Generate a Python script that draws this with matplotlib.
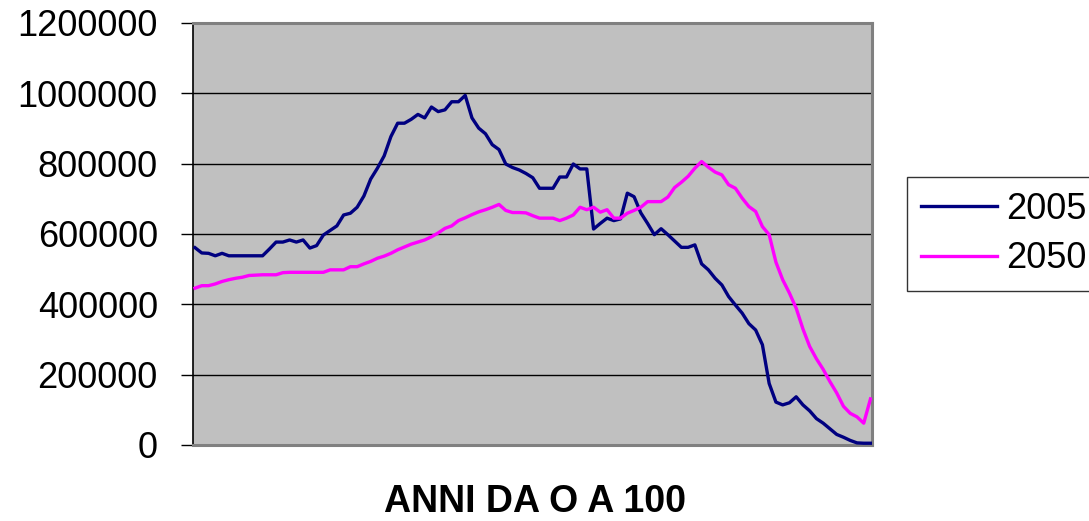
import numpy as np
import matplotlib
matplotlib.use("Agg")
import matplotlib.pyplot as plt
from matplotlib.ticker import FuncFormatter

plt.rcParams['font.family'] = ['Liberation Sans', 'DejaVu Sans']

# popolazione per singolo anno di eta', 0..100
ages = np.arange(0, 101)

pop_2005 = [
    561000, 546000, 545000, 538000, 545000, 538000, 538000, 538000, 538000, 538000,
    538000, 557000, 577000, 577000, 583000, 577000, 583000, 560000, 567000, 597000,
    610000, 623000, 654000, 659000, 676000, 708000, 756000, 787000, 822000, 877000,
    915000, 915000, 926000, 940000, 930000, 961000, 948000, 953000, 976000, 976000,
    994000, 930000, 901000, 885000, 854000, 840000, 799000, 789000, 782000, 772000,
    760000, 730000, 730000, 730000, 762000, 762000, 799000, 785000, 785000, 614000,
    630000, 645000, 638000, 643000, 716000, 706000, 660000, 630000, 598000, 615000,
    598000, 580000, 562000, 562000, 569000, 515000, 498000, 474000, 455000, 422000,
    398000, 375000, 345000, 327000, 285000, 175000, 122000, 114000, 120000, 137000,
    114000, 97000, 75000, 62000, 46000, 30000, 22000, 13000, 6000, 5000,
    5000,
]

pop_2050 = [
    446000, 453000, 453000, 458000, 465000, 470000, 474000, 477000, 482000, 483000,
    484000, 484000, 484000, 490000, 491000, 491000, 491000, 491000, 491000, 491000,
    498000, 498000, 498000, 507000, 507000, 515000, 522000, 531000, 537000, 545000,
    555000, 563000, 571000, 577000, 583000, 592000, 603000, 616000, 623000, 638000,
    646000, 655000, 663000, 669000, 676000, 684000, 667000, 661000, 661000, 660000,
    652000, 645000, 645000, 645000, 638000, 645000, 654000, 676000, 669000, 676000,
    662000, 669000, 645000, 645000, 659000, 667000, 676000, 692000, 692000, 692000,
    705000, 732000, 747000, 764000, 787000, 806000, 790000, 776000, 768000, 740000,
    730000, 702000, 678000, 664000, 621000, 598000, 520000, 470000, 432000, 389000,
    330000, 280000, 245000, 215000, 180000, 148000, 110000, 90000, 80000, 62000,
    131000,
]

yticks = [0, 200000, 400000, 600000, 800000, 1000000, 1200000]

fig = plt.figure(figsize=(10.89, 5.21), dpi=100)
ax = fig.add_axes([0.1768, 0.1459, 0.6239, 0.81])
ax.set_facecolor('#C0C0C0')

ax.plot(ages, pop_2005, color='#000080', lw=2.4, label='2005', zorder=3)
ax.plot(ages, pop_2050, color='#FF00FF', lw=2.4, label='2050', zorder=3)

ax.set_xlim(-0.37, 100.22)
ax.set_ylim(0, 1200000)
ax.set_yticks(yticks)
ax.yaxis.set_major_formatter(FuncFormatter(lambda v, p: f"{int(v)}"))
ax.yaxis.grid(True, color='black', lw=1.0)
ax.set_axisbelow(True)
ax.set_xticks([])
ax.tick_params(axis='y', labelsize=26, length=9, width=1.0, pad=16)

for side in ('top', 'right', 'bottom'):
    ax.spines[side].set_color('#808080')
    ax.spines[side].set_linewidth(2.2)
ax.spines['left'].set_color('black')
ax.spines['left'].set_linewidth(1.2)

fig.text(535 / 1089, 1 - 502 / 521, 'ANNI DA O A 100', ha='center', va='center',
         fontsize=27, fontweight='bold')

leg = fig.legend(loc='upper left', bbox_to_anchor=(906.7 / 1089, 1 - 177.3 / 521),
                 fontsize=26, frameon=True, fancybox=False, handlelength=2.1,
                 handletextpad=0.26, borderpad=0.4, labelspacing=0.4,
                 borderaxespad=0)
leg.get_frame().set_edgecolor('black')
leg.get_frame().set_linewidth(1.0)
for line in leg.get_lines():
    line.set_linewidth(2.4)

fig.savefig('out.png', dpi=100)
